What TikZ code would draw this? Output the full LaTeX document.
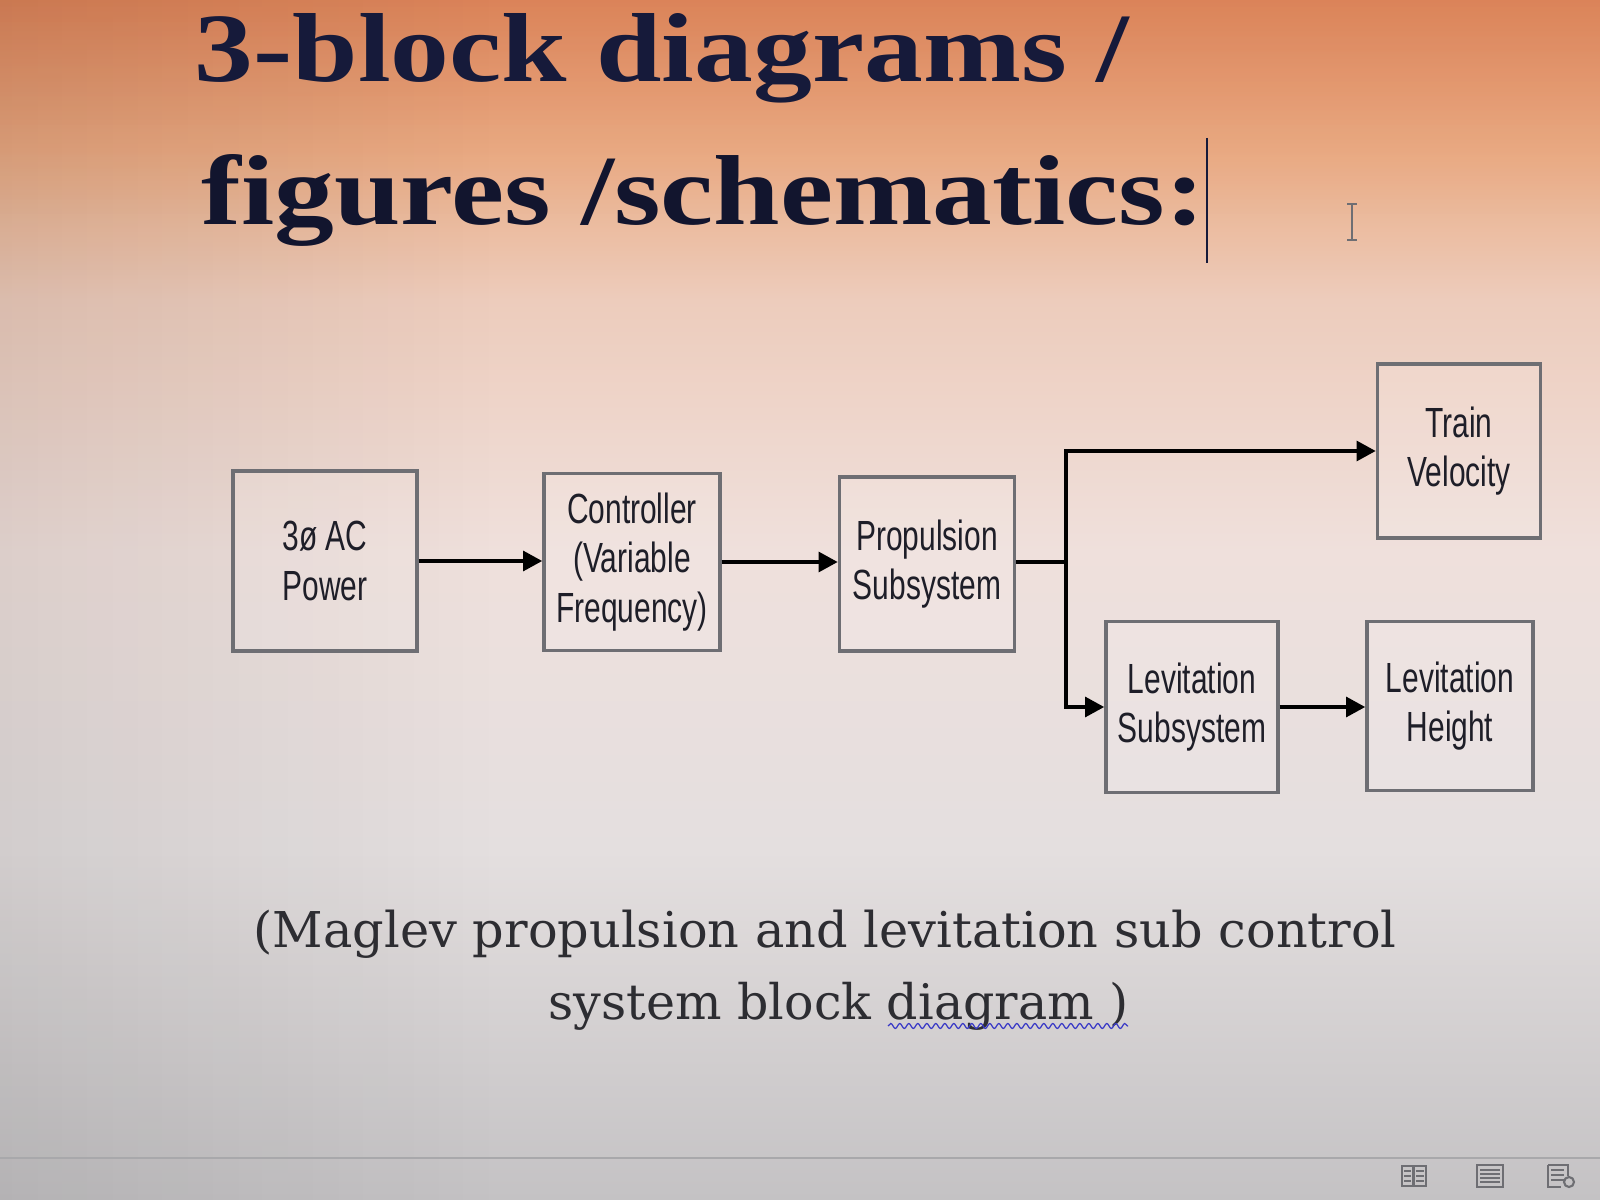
\documentclass[tikz,border=0pt]{standalone}
\usepackage{fontspec}
\usetikzlibrary{arrows.meta,decorations.pathmorphing,fadings}
\newfontfamily\boxfont[FakeStretch=0.71]{Liberation Sans}
\newfontfamily\titlefont{Liberation Serif}
\newfontfamily\capfont{DejaVu Serif}
\definecolor{ctop}{RGB}{222,140,95}
\definecolor{cupper}{RGB}{234,172,132}
\definecolor{cup}{RGB}{237,204,188}
\definecolor{cmid}{RGB}{239,224,220}
\definecolor{clow}{RGB}{228,223,223}
\definecolor{cbot}{RGB}{196,194,196}
\definecolor{boxgray}{RGB}{110,110,115}
\definecolor{boxtext}{RGB}{30,30,40}
\definecolor{navy}{RGB}{22,26,58}
\definecolor{captext}{RGB}{45,45,50}
\definecolor{uigray}{RGB}{110,110,115}
\pgfdeclareverticalshading{bgshade}{100bp}{color(0bp)=(cbot); color(25bp)=(cbot); color(39.6bp)=(clow); color(52bp)=(cmid); color(62.5bp)=(cup); color(68.75bp)=(cupper); color(75bp)=(ctop); color(100bp)=(ctop)}
\tikzset{
  blk/.style={draw=boxgray, line width=0.9pt, fill=white, fill opacity=0.12, text opacity=1,
    align=center, inner sep=0pt, text=boxtext, font=\boxfont\fontsize{12}{14}\selectfont},
  arr/.style={line width=1.4pt, -{Triangle[length=5.5pt,width=5.5pt]}},
  wire/.style={line width=1.4pt},
  uiicon/.style={draw=uigray, line width=0.6pt}
}
\begin{document}
\begin{tikzpicture}[x=0.1mm, y=-0.1mm]
\useasboundingbox (0,0) rectangle (1600,1200);
% background
\shade[shading=bgshade] (0,0) rectangle (1600,1200);
\fill[black, path fading=east, opacity=0.08] (0,0) rectangle (500,1200);
\fill[red!70!black, path fading=south, opacity=0.06] (0,0) rectangle (1600,220);
% status bar
\draw[uigray!60, line width=0.4pt] (0,1158) -- (1600,1158);
% title
\node[anchor=base west, inner sep=0pt, text=navy] (t1) at (194,82)
  {\resizebox{93.4mm}{6.8mm}{\titlefont\bfseries 3-block diagrams /}};
\node[anchor=base west, inner sep=0pt, text=navy!80!black] (t2) at (201,224)
  {\resizebox{100.3mm}{7.0mm}{\titlefont\bfseries figures /schematics:}};
% text caret and I-beam cursor
\coordinate (caretTop) at (1207,138);
\coordinate (caretBot) at (1207,263);
\draw[navy, line width=0.5pt] (caretTop) -- (caretBot);
\coordinate (ibTop) at (1352,204);
\coordinate (ibBot) at (1352,240);
\draw[uigray, line width=0.5pt] (ibTop) -- (ibBot)
  ([xshift=-0.5mm]ibTop) -- ([xshift=0.5mm]ibTop)
  ([xshift=-0.5mm]ibBot) -- ([xshift=0.5mm]ibBot);
% blocks
\node[blk, minimum width=18.4mm, minimum height=18.0mm] (pwr) at (325,561) {3ø AC\\Power};
\node[blk, minimum width=17.6mm, minimum height=17.7mm] (ctl) at (632,562) {Controller\\(Variable\\Frequency)};
\node[blk, minimum width=17.5mm, minimum height=17.4mm] (prop) at (927,564) {Propulsion\\Subsystem};
\node[blk, minimum width=16.3mm, minimum height=17.4mm] (tv) at (1459,451) {Train\\Velocity};
\node[blk, minimum width=17.2mm, minimum height=17.1mm] (lev) at (1192,707) {Levitation\\Subsystem};
\node[blk, minimum width=16.6mm, minimum height=16.9mm] (lh) at (1450,706) {Levitation\\Height};
% connectors
\coordinate (j) at (1066,562);
\draw[arr] (pwr.east) -- (ctl.west |- pwr.east);
\draw[arr] (ctl.east) -- (prop.west |- ctl.east);
\draw[wire] (prop.east |- j) -- (j);
\draw[arr] (j) |- (tv.west);
\draw[arr] (j) |- (lev.west);
\draw[arr] (lev.east) -- (lh.west |- lev.east);
% caption
\node[anchor=base west, inner sep=0pt, text=captext] (c1) at (253,947)
  {\resizebox{114.3mm}{!}{\capfont (Maglev propulsion and levitation sub control}};
\node[anchor=base west, inner sep=0pt, text=captext] (c2) at (548,1019)
  {\resizebox{58mm}{!}{\capfont system block diagram )}};
\coordinate (sqA) at (888,1026);
\coordinate (sqB) at (1128,1026);
\draw[blue!55!gray, line width=0.35pt, decorate, decoration={snake, amplitude=0.25mm, segment length=0.9mm}] (sqA) -- (sqB);
% status bar icons
\begin{scope}[uiicon]
  \draw (1402,1166) rectangle (1413,1186);
  \draw (1414,1166) rectangle (1426,1186);
  \foreach \yy in {1171,1176,1181} {\draw (1404,\yy) -- (1411,\yy); \draw (1416,\yy) -- (1424,\yy);}
  \draw (1477,1165) rectangle (1503,1187);
  \foreach \yy in {1170,1174,1178,1182} {\draw (1480,\yy) -- (1500,\yy);}
  \draw (1548,1165) -- (1568,1165) -- (1568,1176) (1548,1165) -- (1548,1187) -- (1561,1187);
  \foreach \yy in {1170,1175,1180} {\draw (1551,\yy) -- (1564,\yy);}
  \draw (1569,1182) circle (5);
\end{scope}
\end{tikzpicture}
\end{document}
